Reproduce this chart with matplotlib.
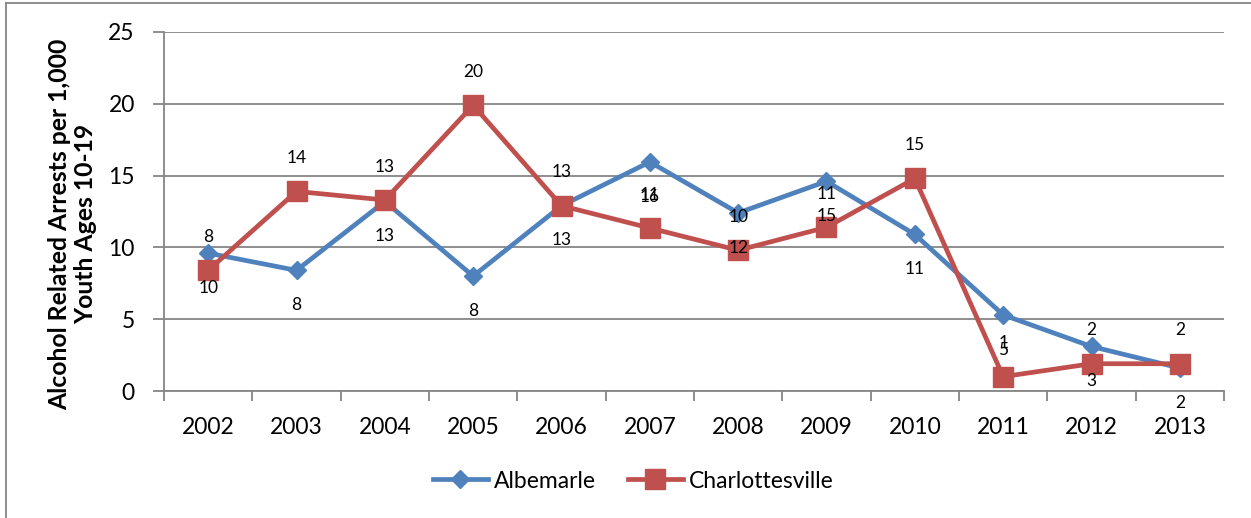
import matplotlib
matplotlib.use("Agg")
import matplotlib.pyplot as plt
from matplotlib.lines import Line2D

plt.rcParams['font.family'] = ['Lato', 'DejaVu Sans']

years = ['2002', '2003', '2004', '2005', '2006', '2007', '2008', '2009', '2010', '2011', '2012', '2013']
albemarle = [9.6, 8.4, 13.2, 8.0, 12.9, 15.95, 12.4, 14.6, 10.9, 5.3, 3.1, 1.6]
charlottesville = [8.4, 13.9, 13.3, 19.9, 12.9, 11.35, 9.8, 11.4, 14.8, 1.0, 1.9, 1.9]
albemarle_labels = ['10', '8', '13', '8', '13', '16', '12', '15', '11', '5', '3', '2']
charlottesville_labels = ['8', '14', '13', '20', '13', '11', '10', '11', '15', '1', '2', '2']

blue = '#4F81BD'
red = '#C0504D'
axis_gray = '#868686'

W, H = 1251, 518
fig = plt.figure(figsize=(W / 100, H / 100), dpi=100)
ax = fig.add_axes([164 / W, 1 - 391 / H, (1224 - 164) / W, (391 - 32) / H])

x = list(range(len(years)))
ax.plot(x, albemarle, color=blue, lw=3.4, marker='D', ms=9.5, mec=blue, mfc=blue,
        label='Albemarle', zorder=3)
ax.plot(x, charlottesville, color=red, lw=3.4, marker='s', ms=14, mec=red, mfc=red,
        label='Charlottesville', zorder=4)

for xi, v, lab in zip(x, albemarle, albemarle_labels):
    ax.annotate(lab, (xi, v), xytext=(0, -25), textcoords='offset points',
                ha='center', va='center', fontsize=12.5, color='black', zorder=6)
for xi, v, lab in zip(x, charlottesville, charlottesville_labels):
    ax.annotate(lab, (xi, v), xytext=(0, 24), textcoords='offset points',
                ha='center', va='center', fontsize=12.5, color='black', zorder=6)

ax.set_xlim(-0.5, len(years) - 0.5)
ax.set_ylim(0, 25)
ax.set_yticks([0, 5, 10, 15, 20, 25])
ax.yaxis.grid(True, color=axis_gray, lw=1.3)
ax.set_axisbelow(True)

ax.set_xticks([i - 0.5 for i in range(len(years) + 1)])
ax.set_xticklabels([])
ax.set_xticks(x, minor=True)
ax.set_xticklabels(years, minor=True)
ax.tick_params(axis='x', which='major', length=7, width=1.3, color=axis_gray, direction='out')
ax.tick_params(axis='x', which='minor', length=0, labelsize=16.5, pad=18.5)
ax.tick_params(axis='y', length=8, width=1.3, color=axis_gray, labelsize=16.5, pad=13)

for s in ['top', 'right']:
    ax.spines[s].set_visible(False)
for s in ['left', 'bottom']:
    ax.spines[s].set_color(axis_gray)
    ax.spines[s].set_linewidth(1.3)

ax.set_ylabel('Alcohol Related Arrests per 1,000\nYouth Ages 10-19', fontsize=17.8,
              fontweight='bold', linespacing=1.15)
ax.yaxis.set_label_coords(-0.063, 0.465)

handles = [Line2D([], [], color=blue, lw=3.4, marker='D', ms=9.5),
           Line2D([], [], color=red, lw=3.4, marker='s', ms=14)]
fig.legend(handles, ['Albemarle', 'Charlottesville'], loc='center',
           bbox_to_anchor=(633 / W, 1 - 481 / H), ncol=2, frameon=False,
           fontsize=16.5, handlelength=2.4, handletextpad=0.25, columnspacing=1.4)

# outer frame of the chart area
fig.add_artist(Line2D([6 / W, 6 / W], [0, 1 - 3 / H], color=axis_gray, lw=1.3,
                      transform=fig.transFigure))
fig.add_artist(Line2D([6 / W, 1], [1 - 3 / H, 1 - 3 / H], color=axis_gray, lw=1.3,
                      transform=fig.transFigure))

fig.savefig('out.png', dpi=100)
